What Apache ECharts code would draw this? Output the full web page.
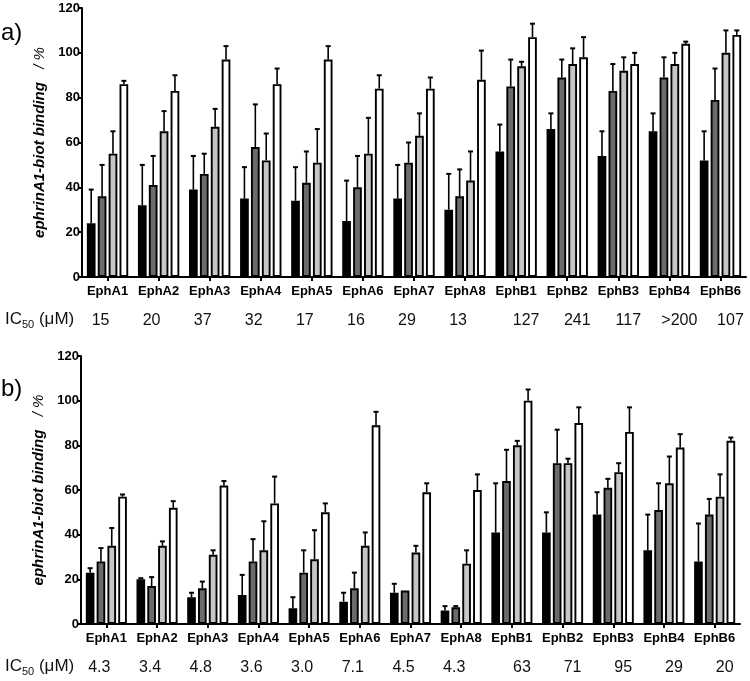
<!DOCTYPE html>
<html>
<head>
<meta charset="utf-8">
<script src="https://cdn.jsdelivr.net/npm/echarts@6/dist/echarts.min.js"></script>
<style>html,body{margin:0;padding:0;background:#fff}#c{width:750px;height:681px}</style>
</head>
<body>
<div id="c"></div>
<script>
const categories = ['EphA1','EphA2','EphA3','EphA4','EphA5','EphA6','EphA7','EphA8','EphB1','EphB2','EphB3','EphB4','EphB6'];
const yTicks = [0,20,40,60,80,100,120];

// Panel a values and upward error (SD)
const aBlack    = [24, 32, 39, 35, 34, 25, 35, 30, 56, 66, 54, 65, 52];
const aBlackErr = [15, 18, 15, 14, 15, 18, 15, 16, 12,  7, 11,  8, 13];
const aDark     = [36, 41, 46, 58, 42, 40, 51, 36, 85, 89, 83, 89, 79];
const aDarkErr  = [14, 13,  9, 19, 14, 14,  9, 12, 12,  8, 12,  9, 14];
const aLight    = [55, 65, 67, 52, 51, 55, 63, 43, 94, 95, 92, 95, 100];
const aLightErr = [10,  9,  8, 12, 15, 16, 10, 13,  2,  7,  6,  5, 10];
const aWhite    = [86, 83, 97, 86, 97, 84, 84, 88, 107, 98, 95, 104, 108];
const aWhiteErr = [1.5, 7, 6,  7,  6,  6,  5, 13,  6,  9,  5,  1,  2];
const aIC50     = ['15','20','37','32','17','16','29','13','127','241','117','>200','107'];

// Panel b values and upward error (SD)
const bBlack    = [23, 20, 12, 13, 7, 10, 14, 6, 41, 41, 49, 33, 28];
const bBlackErr = [2, 0.5, 2, 9, 5, 4, 4, 2, 22, 9, 10, 16, 17];
const bDark     = [28, 17, 16, 28, 23, 16, 15, 7.5, 64, 72, 61, 51, 49];
const bDarkErr  = [6, 4, 3, 10, 10, 7, 0, 0.5, 14, 15, 4, 12, 7];
const bLight    = [35, 35, 31, 33, 29, 35, 32, 27, 80, 72, 68, 63, 57];
const bLightErr = [8, 2, 2, 13, 13, 6, 3, 6, 2, 2, 4, 12, 10];
const bWhite    = [57, 52, 62, 54, 50, 89, 59, 60, 100, 90, 86, 79, 82];
const bWhiteErr = [1, 3, 2, 12, 4, 6, 4, 7, 5, 7, 11, 6, 1.5];
const bIC50     = ['4.3','3.4','4.8','3.6','3.0','7.1','4.5','4.3','63','71','95','29','20'];

const FONT = '"Liberation Sans", Arial, Helvetica, sans-serif';
const colors = ['#000000', '#6b6b6b', '#c6c6c6', '#ffffff'];
const CAT_GAP = 0.19, BAR_GAP = 0.25;

const chart = echarts.init(document.getElementById('c'), null, {renderer: 'canvas'});

function barSeries(data, idx, axisIdx) {
  return {
    type: 'bar', xAxisIndex: axisIdx, yAxisIndex: axisIdx,
    data: data,
    barCategoryGap: (CAT_GAP * 100) + '%', barGap: (BAR_GAP * 100) + '%',
    itemStyle: {color: colors[idx], borderColor: '#000', borderWidth: 1.9},
    silent: true, z: 2
  };
}
function errSeries(vals, errs, idx, axisIdx) {
  const data = vals.map((v, i) => [i, v, errs[i]]);
  return {
    type: 'custom', xAxisIndex: axisIdx, yAxisIndex: axisIdx,
    data: data, encode: {x: 0, y: 1}, z: 3, silent: true,
    renderItem: function (params, api) {
      const x = api.value(0), v = api.value(1), e = api.value(2);
      const band = api.size([1, 0])[0];
      const bw = band * (1 - CAT_GAP) / (4 + 3 * BAR_GAP);
      const gw = 4 * bw + 3 * bw * BAR_GAP;
      const off = -gw / 2 + bw / 2 + idx * bw * (1 + BAR_GAP);
      const p0 = api.coord([x, v]);
      const p1 = api.coord([x, v + e]);
      const cx = p0[0] + off;
      if (e <= 0) return null;
      return {
        type: 'group',
        children: [
          {type: 'line', shape: {x1: cx, y1: p0[1], x2: cx, y2: p1[1]}, style: {stroke: '#000', lineWidth: 1.6}},
          {type: 'line', shape: {x1: cx - 2.5, y1: p1[1], x2: cx + 2.5, y2: p1[1]}, style: {stroke: '#000', lineWidth: 2}}
        ]
      };
    }
  };
}

function icFormatter(val, i) {
  return i < 8 ? '{a|' + val + '}' : '{b|' + val + '}';
}
const icRich = {
  a: {fontSize: 16, fontFamily: FONT, color: '#111', padding: [0, 14, 0, 0]},
  b: {fontSize: 16, fontFamily: FONT, color: '#111', padding: [0, 0, 0, 20]}
};

function yAxis(gridIndex) {
  return {
    type: 'value', gridIndex: gridIndex, min: 0, max: 120, interval: 20,
    axisLine: {show: true, lineStyle: {color: '#000', width: 2}},
    axisTick: {show: true, length: 4, lineStyle: {color: '#000', width: 2}},
    axisLabel: {color: '#000', fontWeight: 'bold', fontSize: 13, fontFamily: FONT, margin: 2,
      formatter: v => yTicks.includes(v) ? String(v) : ''},
    splitLine: {show: false},
    name: '{a|ephrinA1-biot binding}    {b|/ %}',
    nameLocation: 'middle', nameRotate: 90, nameGap: 33,
    nameTextStyle: {
      rich: {
        a: {fontStyle: 'italic', fontWeight: 'bold', fontSize: 15, fontFamily: FONT, color: '#000'},
        b: {fontStyle: 'italic', fontSize: 15, fontFamily: FONT, color: '#000'}
      }
    }
  };
}
function xAxis(gridIndex) {
  return {
    type: 'category', gridIndex: gridIndex, data: categories,
    axisLine: {show: true, lineStyle: {color: '#000', width: 2}},
    axisTick: {show: true, alignWithLabel: true, length: 4, lineStyle: {color: '#000', width: 2}},
    axisLabel: {color: '#000', fontWeight: 'bold', fontSize: 13, fontFamily: FONT, margin: 8, interval: 0},
    splitLine: {show: false}
  };
}
function icAxis(gridIndex, labels) {
  return {
    type: 'category', gridIndex: gridIndex, data: labels, position: 'bottom',
    axisLine: {show: false}, axisTick: {show: false}, splitLine: {show: false},
    axisLabel: {interval: 0, margin: 36, formatter: icFormatter, rich: icRich}
  };
}

const icRichLabel = {
  n: {fontSize: 17, fontFamily: FONT, fill: '#111', verticalAlign: 'bottom', lineHeight: 19},
  s: {fontSize: 11, fontFamily: FONT, fill: '#111', verticalAlign: 'bottom', lineHeight: 19, padding: [0, 0, -2, 0]}
};

const option = {
  animation: false,
  backgroundColor: '#fff',
  grid: [
    {left: 82, right: 4, top: 8, bottom: 404},
    {left: 81, right: 10, top: 356, bottom: 57}
  ],
  xAxis: [xAxis(0), xAxis(1), icAxis(0, aIC50), icAxis(1, bIC50)],
  yAxis: [yAxis(0), yAxis(1)],
  series: [
    barSeries(aBlack, 0, 0), barSeries(aDark, 1, 0), barSeries(aLight, 2, 0), barSeries(aWhite, 3, 0),
    errSeries(aBlack, aBlackErr, 0, 0), errSeries(aDark, aDarkErr, 1, 0),
    errSeries(aLight, aLightErr, 2, 0), errSeries(aWhite, aWhiteErr, 3, 0),
    barSeries(bBlack, 0, 1), barSeries(bDark, 1, 1), barSeries(bLight, 2, 1), barSeries(bWhite, 3, 1),
    errSeries(bBlack, bBlackErr, 0, 1), errSeries(bDark, bDarkErr, 1, 1),
    errSeries(bLight, bLightErr, 2, 1), errSeries(bWhite, bWhiteErr, 3, 1)
  ],
  graphic: [
    {type: 'text', left: 1, top: 21, style: {text: 'a)', font: '24px ' + FONT, fill: '#000'}},
    {type: 'text', left: 1, top: 377, style: {text: 'b)', font: '24px ' + FONT, fill: '#000'}},
    {type: 'text', left: 5, top: 311, style: {text: '{n|IC}{s|50}{n| (μM)}', rich: icRichLabel}},
    {type: 'text', left: 5, top: 658, style: {text: '{n|IC}{s|50}{n| (μM)}', rich: icRichLabel}}
  ]
};
chart.setOption(option);
</script>
</body>
</html>
